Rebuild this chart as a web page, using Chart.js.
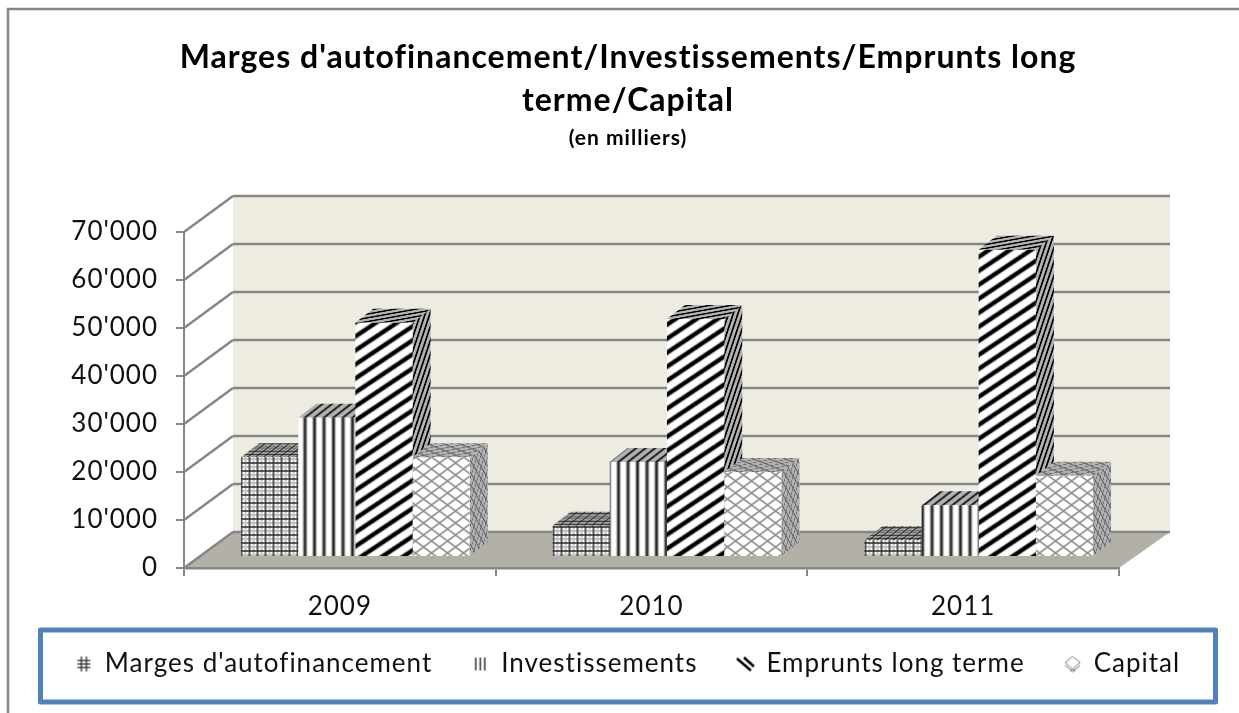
<!DOCTYPE html>
<html lang="fr">
<head>
<meta charset="utf-8">
<title>Marges d'autofinancement</title>
<script src="https://cdn.jsdelivr.net/npm/chart.js@4"></script>
<style>
    html, body { margin: 0; padding: 0; background: #fff; overflow: hidden; }
    canvas { display: block; }
</style>
</head>
<body>
<canvas id="chart" width="1239" height="713"></canvas>
<script>
const categories = ['2009', '2010', '2011'];
const seriesNames = ["Marges d'autofinancement", 'Investissements', 'Emprunts long terme', 'Capital'];
const marges = [20800, 6500, 3500];
const investissements = [29000, 19800, 10800];
const emprunts = [48800, 49600, 64000];
const capital = [20800, 17700, 16900];
const yTickValues = [0, 10000, 20000, 30000, 40000, 50000, 60000, 70000];
const yTickLabels = ['0', "10'000", "20'000", "30'000", "40'000", "50'000", "60'000", "70'000"];

const FONT = 'Lato, Carlito, sans-serif';
const GREY = '#868686';
const WALL = { dx: 49, dy: -36 };      // depth of the whole plot box
const BAR_SHIFT = { dx: 15.5, dy: -11 }; // bars stand a bit inside the floor
const BAR_DEPTH = { dx: 18, dy: -14 };
const LEGEND_TOP = 611;

function tile(w, h, paint) {
    const c = document.createElement('canvas');
    c.width = w;
    c.height = h;
    const g = c.getContext('2d');
    g.fillStyle = '#fff';
    g.fillRect(0, 0, w, h);
    paint(g, w, h);
    return c;
}

function line(g, x1, y1, x2, y2, color, width) {
    g.strokeStyle = color;
    g.lineWidth = width;
    g.beginPath();
    g.moveTo(x1, y1);
    g.lineTo(x2, y2);
    g.stroke();
}

const tiles = [
    tile(8, 8, g => {
        line(g, 6, 0, 6, 8, '#c4c4c4', 2);
        line(g, 0, 6, 8, 6, '#c4c4c4', 2);
        line(g, 2, 0, 2, 8, '#333', 1.6);
        line(g, 0, 2, 8, 2, '#333', 1.6);
    }),
    tile(19, 4, g => {
        [4.5, 14].forEach(x => {
            line(g, x, 0, x, 4, '#aaa', 4.4);
            line(g, x, 0, x, 4, '#2a2a2a', 2.4);
        });
    }),
    tile(21, 14, g => {
        [-14, 0, 14].forEach(o => {
            line(g, -2, 14 + o + 4 / 3, 23, o - 4 / 3, '#999', 5.6);
            line(g, -2, 14 + o + 4 / 3, 23, o - 4 / 3, '#000', 3.6);
        });
    }),
    tile(16, 12, g => {
        [-16, 0, 16].forEach(o => {
            line(g, o, 0, o + 16, 12, '#8c8c8c', 1.6);
            line(g, o + 16, 0, o, 12, '#8c8c8c', 1.6);
        });
    })
];

const canvas = document.getElementById('chart');
const ctx = canvas.getContext('2d');
const patterns = tiles.map(t => ctx.createPattern(t, 'repeat'));

function swatch(paint) {
    const c = document.createElement('canvas');
    c.width = 19;
    c.height = 17;
    paint(c.getContext('2d'));
    return c;
}

const swatches = [
    swatch(g => {
        [7, 12].forEach(x => line(g, x, 1, x, 16, '#222', 1.2));
        [5, 8.5, 12].forEach(y => line(g, 3, y, 16, y, '#222', 1.2));
    }),
    swatch(g => {
        [5, 9.5, 14].forEach(x => line(g, x, 2, x, 15, '#333', 1.5));
    }),
    swatch(g => {
        line(g, 1, 3, 15, 15, '#000', 2.6);
        line(g, 8, 2, 18, 11, '#000', 2.6);
    }),
    swatch(g => {
        [[9.5, 1, 17, 7], [9.5, 1, 2, 7], [2, 7, 12, 16], [17, 7, 7, 16], [9.5, 16, 2, 10], [9.5, 16, 17, 10]]
            .forEach(s => line(g, s[0], s[1], s[2], s[3], '#777', 1));
    })
];

function fillFace(c, points, pattern, matrix, shade) {
    c.beginPath();
    points.forEach((p, i) => (i ? c.lineTo(p[0], p[1]) : c.moveTo(p[0], p[1])));
    c.closePath();
    pattern.setTransform(new DOMMatrix(matrix));
    c.fillStyle = pattern;
    c.fill();
    c.fillStyle = `rgba(0,0,0,${shade})`;
    c.fill();
    pattern.setTransform(new DOMMatrix());
}

const box3d = {
    id: 'box3d',
    beforeUpdate(chart) {
        // the reference text runs wider than Lato
        chart.ctx.letterSpacing = '1px';
    },
    afterLayout(chart) {
        // legend padding sets the gaps between items, so its top is placed by hand
        const h = chart.legend.height;
        chart.legend.top = LEGEND_TOP;
        chart.legend.bottom = LEGEND_TOP + h;
    },
    beforeDraw(chart) {
        const c = chart.ctx;
        c.letterSpacing = '1px';
        const { x, y } = chart.scales;
        const left = x.left, right = x.right;
        const y0 = y.getPixelForValue(0), yTop = y.getPixelForValue(70000);

        c.save();
        // outer frame, cut off by the picture on the right
        c.strokeStyle = GREY;
        c.lineWidth = 2.5;
        c.beginPath();
        c.moveTo(8, 713);
        c.lineTo(8, 9);
        c.lineTo(1239, 9);
        c.stroke();

        // back wall
        c.fillStyle = '#eeece1';
        c.fillRect(left + WALL.dx, yTop + WALL.dy, right - left + 2, y0 - yTop);

        // floor
        c.fillStyle = '#b3b0a7';
        c.beginPath();
        c.moveTo(left, y0);
        c.lineTo(left + WALL.dx, y0 + WALL.dy);
        c.lineTo(right + WALL.dx + 2, y0 + WALL.dy);
        c.lineTo(right, y0);
        c.closePath();
        c.fill();

        // grid on the side wall and back wall
        yTickValues.forEach(v => {
            const py = y.getPixelForValue(v);
            line(c, left, py, left + WALL.dx, py + WALL.dy, GREY, 2.5);
            line(c, left + WALL.dx, py + WALL.dy, right + WALL.dx + 2, py + WALL.dy, GREY, 2.5);
        });

        // legend frame
        c.strokeStyle = '#4f81bd';
        c.lineWidth = 5;
        c.lineJoin = 'round';
        c.strokeRect(40.5, 630, 1175, 72);
        c.restore();
    },
    beforeDatasetsDraw(chart) {
        // side and top faces, left to right; the fronts all go on top afterwards
        const c = chart.ctx;
        const d = BAR_DEPTH;
        const sideScale = 0.3, topScale = 0.35; // hatching squeezed along the depth
        c.save();
        c.translate(BAR_SHIFT.dx, BAR_SHIFT.dy);
        chart.getSortedVisibleDatasetMetas().forEach(meta => {
            const pattern = patterns[meta.index];
            meta.data.forEach(bar => {
                const l = bar.x - bar.width / 2, r = bar.x + bar.width / 2;
                fillFace(c, [[r, bar.y], [r + d.dx, bar.y + d.dy], [r + d.dx, bar.base + d.dy], [r, bar.base]],
                    pattern, [sideScale, sideScale * d.dy / d.dx, 0, 1, 0, 0], 0.3);
                fillFace(c, [[l, bar.y], [l + d.dx, bar.y + d.dy], [r + d.dx, bar.y + d.dy], [r, bar.y]],
                    pattern, [1, 0, topScale * d.dx / d.dy, topScale, 0, 0], 0.3);
            });
        });
        c.restore();
    },
    beforeDatasetDraw(chart) {
        chart.ctx.save();
        chart.ctx.translate(BAR_SHIFT.dx, BAR_SHIFT.dy);
    },
    afterDatasetDraw(chart) {
        chart.ctx.restore();
    }
};

const seriesValues = [marges, investissements, emprunts, capital];

new Chart(ctx, {
    type: 'bar',
    plugins: [box3d],
    data: {
        labels: categories,
        datasets: seriesValues.map((values, i) => ({
            label: seriesNames[i],
            data: values,
            backgroundColor: patterns[i],
            borderWidth: 0,
            clip: false,
            categoryPercentage: 0.734,
            barPercentage: 1
        }))
    },
    options: {
        responsive: false,
        animation: false,
        layout: { padding: { left: 17, right: 0, top: 0, bottom: 14 } },
        plugins: {
            tooltip: { enabled: false },
            title: {
                display: true,
                text: ["Marges d'autofinancement/Investissements/Emprunts long", 'terme/Capital'],
                color: '#000',
                font: { family: FONT, size: 32, weight: 'bold', lineHeight: 1.34 },
                padding: { top: 36.5, bottom: 0 }
            },
            subtitle: {
                display: true,
                text: '(en milliers)',
                color: '#000',
                font: { family: FONT, size: 21, weight: 'bold', lineHeight: 1.2 },
                padding: { top: 3, bottom: 81.5 }
            },
            legend: {
                position: 'bottom',
                labels: {
                    usePointStyle: true,
                    pointStyleWidth: 16,
                    padding: 40,
                    color: '#111',
                    font: { family: FONT, size: 26 },
                    generateLabels(chart) {
                        return Chart.defaults.plugins.legend.labels.generateLabels(chart)
                            .map((item, i) => ({ ...item, pointStyle: swatches[i] }));
                    }
                }
            }
        },
        scales: {
            x: {
                grid: { drawOnChartArea: false, color: GREY, lineWidth: 2, tickLength: 8 },
                border: { color: GREY, width: 2.5 },
                ticks: { color: '#111', font: { family: FONT, size: 26 }, padding: 15 },
                afterFit(scale) { scale.height = 55; }
            },
            y: {
                min: 0,
                max: 70000,
                grid: { drawOnChartArea: false, color: GREY, lineWidth: 2, tickLength: 8 },
                border: { color: GREY, width: 2 },
                afterBuildTicks(scale) { scale.ticks = yTickValues.map(value => ({ value })); },
                ticks: {
                    color: '#111',
                    font: { family: FONT, size: 26 },
                    padding: 18,
                    callback: (value, i) => yTickLabels[i]
                },
                afterFit(scale) { scale.width = 167; }
            },
            // empty axis: keeps room on the right for the depth of the box
            depthGap: {
                type: 'linear',
                position: 'right',
                grid: { display: false },
                border: { display: false },
                ticks: { display: false },
                afterFit(scale) { scale.width = 120; }
            }
        }
    }
});
</script>
</body>
</html>
